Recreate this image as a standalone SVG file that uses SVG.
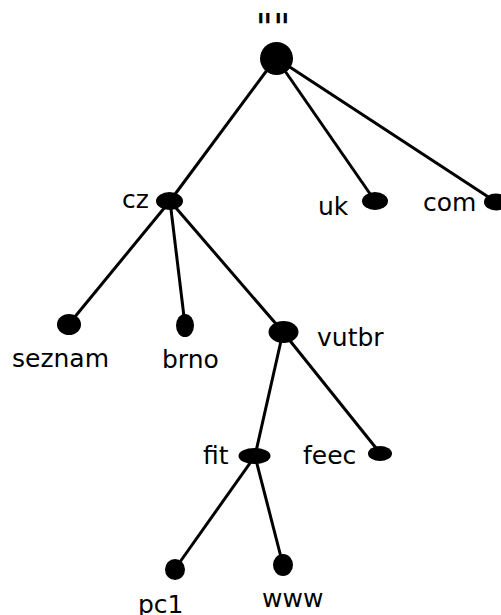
<svg xmlns="http://www.w3.org/2000/svg" width="501" height="615" viewBox="0 0 501 615">
<style>
.lbl{font-family:"DejaVu Sans",sans-serif;font-size:25px;fill:#000}
.edge{stroke:#000;stroke-width:3;fill:none}
.node{fill:#000}
</style>
<rect width="501" height="615" fill="#fff"/>
<g id="connectors">
<line class="edge" x1="276" y1="58" x2="170" y2="201"/>
<line class="edge" x1="276" y1="58" x2="375" y2="201"/>
<line class="edge" x1="276" y1="58" x2="496" y2="202"/>
<line class="edge" x1="170" y1="201" x2="69" y2="324"/>
<line class="edge" x1="170" y1="201" x2="185" y2="325"/>
<line class="edge" x1="170" y1="201" x2="283" y2="332"/>
<line class="edge" x1="283" y1="332" x2="255" y2="456"/>
<line class="edge" x1="283" y1="332" x2="380" y2="453"/>
<line class="edge" x1="255" y1="456" x2="175" y2="569"/>
<line class="edge" x1="255" y1="456" x2="283" y2="565"/>
</g>
<g id="root"><circle class="node" cx="276.5" cy="58.5" r="16.5"/><text class="lbl" x="273" y="40" text-anchor="middle" style="font-size:38px">""</text></g>
<g id="cz"><ellipse class="node" cx="169.5" cy="201" rx="13.5" ry="9"/><text class="lbl" x="122" y="208">cz</text></g>
<g id="uk"><ellipse class="node" cx="375" cy="201" rx="13" ry="9"/><text class="lbl" x="318" y="215">uk</text></g>
<g id="com"><ellipse class="node" cx="496" cy="202" rx="12" ry="8.5"/><text class="lbl" x="423" y="211">com</text></g>
<g id="seznam"><ellipse class="node" cx="69" cy="324.5" rx="12" ry="10.5"/><text class="lbl" x="12" y="367">seznam</text></g>
<g id="brno"><ellipse class="node" cx="185" cy="325.5" rx="9" ry="11.5"/><text class="lbl" x="162" y="368">brno</text></g>
<g id="vutbr"><ellipse class="node" cx="283.5" cy="332" rx="15" ry="11"/><text class="lbl" x="317" y="346">vutbr</text></g>
<g id="fit"><ellipse class="node" cx="254.5" cy="456" rx="16" ry="8"/><text class="lbl" x="203" y="464">fit</text></g>
<g id="feec"><ellipse class="node" cx="380" cy="453.5" rx="12" ry="7.5"/><text class="lbl" x="303" y="464">feec</text></g>
<g id="pc1"><ellipse class="node" cx="175" cy="569.5" rx="10" ry="10.5"/><text class="lbl" x="138" y="613">pc1</text></g>
<g id="www"><ellipse class="node" cx="283" cy="565" rx="10" ry="11"/><text class="lbl" x="262" y="607">www</text></g>
</svg>
